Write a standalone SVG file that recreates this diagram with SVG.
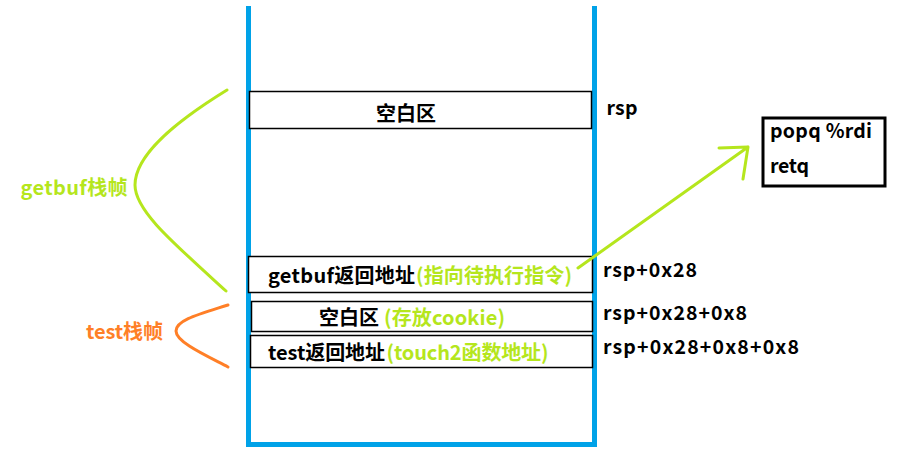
<svg xmlns="http://www.w3.org/2000/svg" width="920" height="462" viewBox="0 0 920 462">
<style>
.t{font-family:"Noto Sans CJK SC","Noto Sans",sans-serif;font-weight:bold;font-size:20px;fill:#000}
.lime{fill:#B5E61D}
.orange{fill:#FF7F27}
.box{fill:#fff;stroke:#000;stroke-width:1.5}
.lbl{font-family:"Noto Sans CJK SC","Noto Sans",sans-serif;font-weight:bold;font-size:19.5px;fill:#000}
</style>
<rect width="920" height="462" fill="#fff"/>
<g id="stack">
<path d="M248.5,6 V444.5 H594.5 V6" fill="none" stroke="#00A2E8" stroke-width="5"/>
</g>
<g id="blank1">
<rect class="box" x="249.5" y="91.5" width="342" height="37"/>
<text class="t" x="376" y="121" textLength="60">空白区</text>
</g>
<g id="getbuf-ret">
<rect class="box" x="248.5" y="256.5" width="344" height="36"/>
<text class="t" x="268" y="283"><tspan textLength="147">getbuf返回地址</tspan><tspan class="lime" x="416" textLength="156">(指向待执行指令)</tspan></text>
</g>
<g id="cookie">
<rect class="box" x="251.5" y="301.5" width="341" height="30"/>
<text class="t" x="319" y="325"><tspan textLength="60">空白区</tspan><tspan class="lime" x="384" textLength="121">(存放cookie)</tspan></text>
</g>
<g id="test-ret">
<rect class="box" x="250.5" y="335.5" width="342" height="32"/>
<text class="t" x="268" y="360"><tspan textLength="117">test返回地址</tspan><tspan class="lime" x="386.5" textLength="162">(touch2函数地址)</tspan></text>
</g>
<g id="rsp-labels">
<text class="lbl" x="606.5" y="115" textLength="31">rsp</text>
<text class="lbl" x="603" y="277" textLength="94">rsp+0x28</text>
<text class="lbl" x="603" y="320" textLength="144">rsp+0x28+0x8</text>
<text class="lbl" x="603" y="354" textLength="196">rsp+0x28+0x8+0x8</text>
</g>
<g id="gadget">
<rect x="763" y="118" width="122" height="68" fill="#fff" stroke="#000" stroke-width="3"/>
<text class="lbl" x="770" y="138" textLength="102">popq %rdi</text>
<text class="lbl" x="770" y="173" textLength="39">retq</text>
</g>
<g id="frame-labels">
<text class="t lime" x="20.5" y="195" textLength="107">getbuf栈帧</text>
<text class="t orange" x="86" y="339" textLength="77">test栈帧</text>
</g>
<g id="connectors" fill="none" stroke-width="3" stroke-linecap="round" stroke-linejoin="round">
<path d="M578,268 L748,147 M719,148 L748,147 L743,179" stroke="#B5E61D"/>
<path d="M227,90 C175,122 135,155 135,185 C135,210 170,240 226,291" stroke="#B5E61D"/>
<path d="M228,305 C200,314 176,320 176,331 C176,342 205,355 228,367" stroke="#FF7F27"/>
</g>
</svg>
